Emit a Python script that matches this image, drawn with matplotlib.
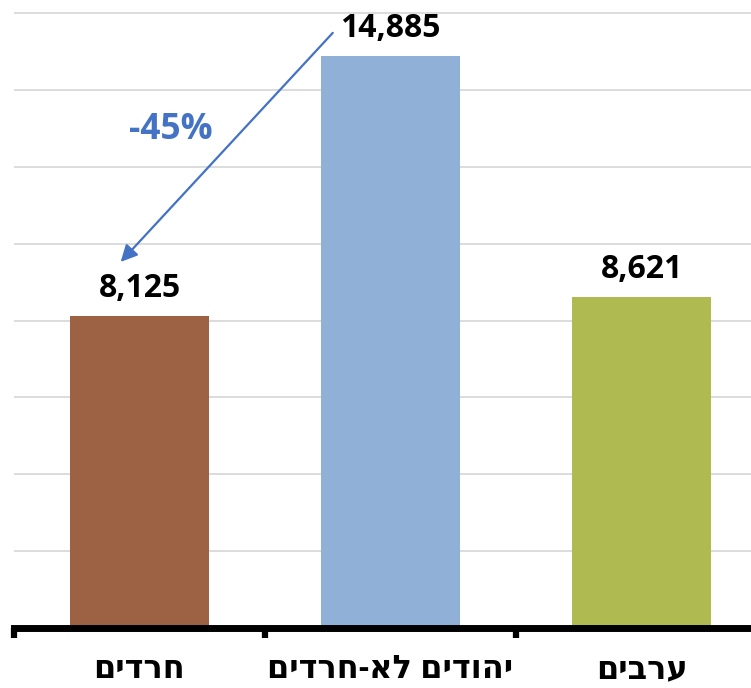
import numpy as np
import matplotlib
matplotlib.use("Agg")
import matplotlib.pyplot as plt

# data
groups = ['חרדים', 'יהודים לא-חרדים', 'ערבים']
values = [8125, 14885, 8621]
colors = ['#9C6243', '#91B0D7', '#AFBB51']
change_text = '-45%'

plt.rcParams['font.family'] = ['Open Sans', 'DejaVu Sans']


def rtl(s):
    # matplotlib has no bidi support, flip hebrew by hand
    return s[::-1]


fig = plt.figure(figsize=(7.51, 6.88), dpi=100)
ax = fig.add_axes([14 / 751, 60 / 688, 737 / 751, 628 / 688])

x = np.arange(len(values))
ax.bar(x, values, width=0.555, color=colors, zorder=2)

ax.set_xlim(-0.5, -0.5 + 737 / 251)
ax.set_ylim(0, 16340)

ax.set_yticks(np.arange(2000, 16001, 2000))
ax.yaxis.grid(True, color='#D9D9D9', linewidth=1.3, zorder=0)
ax.tick_params(axis='y', length=0, labelleft=False)

ax.set_xticks(x)
ax.set_xticklabels([rtl(g) for g in groups], fontsize=23, fontweight='bold')
ax.tick_params(axis='x', which='major', length=0, pad=18)
ax.set_xticks([-0.5, 0.5, 1.5], minor=True)
ax.tick_params(axis='x', which='minor', length=7.5, width=4.5, color='black')

for s in ['top', 'right', 'left']:
    ax.spines[s].set_visible(False)
ax.spines['bottom'].set_linewidth(5)
ax.spines['bottom'].set_color('black')
ax.spines['bottom'].set_zorder(3)

for xi, v in zip(x, values):
    ax.annotate(f'{v:,}', (xi, v), xytext=(0, 8), textcoords='offset points',
                ha='center', va='bottom', fontsize=23, fontweight='bold')

# arrow from the big bar label down to the haredi label
ax.annotate('', xy=(0 - 0.075, values[0] + 1400), xytext=(1 - 0.23, values[1] + 600),
            arrowprops=dict(arrowstyle='-|>', color='#4472C4', lw=1.6,
                            mutation_scale=25, shrinkA=0, shrinkB=0))
ax.text(0.125, 12950, change_text, color='#4472C4', fontsize=25.5,
        fontweight='bold', ha='center', va='center')

fig.savefig('out.png', dpi=100)
